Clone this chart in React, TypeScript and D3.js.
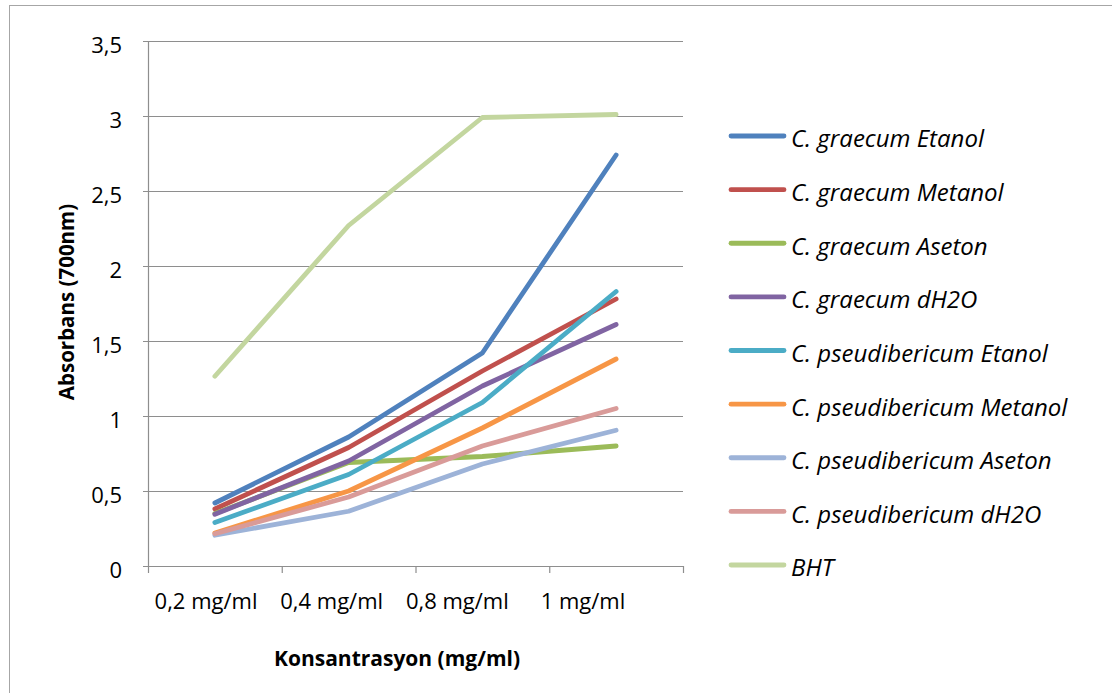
import React from "react";
import * as d3 from "d3";

const categories = ["0,2 mg/ml", "0,4 mg/ml", "0,8 mg/ml", "1 mg/ml"];
const seriesNames = [
  "C. graecum Etanol",
  "C. graecum Metanol",
  "C. graecum Aseton",
  "C. graecum dH2O",
  "C. pseudibericum Etanol",
  "C. pseudibericum Metanol",
  "C. pseudibericum Aseton",
  "C. pseudibericum dH2O",
  "BHT",
];
const graecumEtanol = [0.42, 0.86, 1.42, 2.74];
const graecumMetanol = [0.38, 0.79, 1.3, 1.78];
const graecumAseton = [0.35, 0.69, 0.73, 0.8];
const graecumDH2O = [0.345, 0.7, 1.2, 1.61];
const pseudEtanol = [0.29, 0.61, 1.09, 1.83];
const pseudMetanol = [0.22, 0.5, 0.92, 1.38];
const pseudAseton = [0.205, 0.365, 0.68, 0.905];
const pseudDH2O = [0.215, 0.46, 0.8, 1.05];
const bht = [1.265, 2.27, 2.99, 3.01];
const seriesValues = [
  graecumEtanol,
  graecumMetanol,
  graecumAseton,
  graecumDH2O,
  pseudEtanol,
  pseudMetanol,
  pseudAseton,
  pseudDH2O,
  bht,
];
const colors = [
  "#4F81BD",
  "#C0504D",
  "#9BBB59",
  "#8064A2",
  "#4BACC6",
  "#F79646",
  "#9DB3D8",
  "#D99B99",
  "#C3D69F",
];
const yTicks = [0, 0.5, 1, 1.5, 2, 2.5, 3, 3.5];

const FONT = "'Open Sans', 'Liberation Sans', sans-serif";

export default function App() {
  const left = 148, right = 683, top = 41, bottom = 566;
  const x = d3.scaleBand<string>().domain(categories).range([left, right]);
  const labelX = d3.scalePoint<string>().domain(categories).range([206, 583]);
  const y = d3.scaleLinear().domain([0, 3.5]).range([bottom, top]);
  const line = d3
    .line<number>()
    .x((_, i) => (x(categories[i]) as number) + x.bandwidth() / 2)
    .y((v) => y(v));
  const axisColor = "#8E8E8E";
  const legendY = d3.scalePoint<string>().domain(seriesNames).range([136, 565]);
  const fmt = (v: number) => String(v).replace(".", ",");
  const edges = [...categories.map((c) => x(c) as number), right];

  return (
    <svg
      width={1112}
      height={693}
      style={{ position: "absolute", left: 0, top: 0, background: "#fff" }}
      fontFamily={FONT}
    >
      <rect x={9.5} y={5.5} width={1200} height={800} fill="#fff" stroke="#A6A6A6" strokeWidth={1} />
      {yTicks.map((t) => (
        <g key={t}>
          <line x1={left - 5} x2={right} y1={y(t) + 0.5} y2={y(t) + 0.5} stroke={axisColor} strokeWidth={1.2} />
          <text x={122} y={y(t) + 4} dy="0.35em" textAnchor="end" fontSize={22} fill="#000">
            {fmt(t)}
          </text>
        </g>
      ))}
      <line x1={left + 0.5} x2={left + 0.5} y1={top} y2={bottom} stroke={axisColor} strokeWidth={1.2} />
      {edges.map((e, i) => (
        <line key={i} x1={e + 0.5} x2={e + 0.5} y1={bottom} y2={bottom + 7} stroke={axisColor} strokeWidth={1.2} />
      ))}
      {categories.map((c) => (
        <text key={c} x={labelX(c)} y={601} dy="0.35em" textAnchor="middle" fontSize={22} fill="#000">
          {c}
        </text>
      ))}
      <text x={397} y={659} dy="0.35em" textAnchor="middle" fontSize={21} fontWeight="bold" fill="#000">
        Konsantrasyon (mg/ml)
      </text>
      <text
        transform={`translate(67,302) rotate(-90)`}
        dy="0.35em"
        textAnchor="middle"
        fontSize={20.5}
        fontWeight="bold"
        fill="#000"
      >
        Absorbans (700nm)
      </text>
      {seriesValues.map((vals, i) => (
        <path
          key={seriesNames[i]}
          d={line(vals) as string}
          fill="none"
          stroke={colors[i]}
          strokeWidth={4.8}
          strokeLinecap="round"
          strokeLinejoin="round"
        />
      ))}
      {seriesNames.map((n, i) => (
        <g key={n}>
          <line
            x1={731}
            x2={784}
            y1={legendY(n)}
            y2={legendY(n)}
            stroke={colors[i]}
            strokeWidth={4.8}
            strokeLinecap="round"
          />
          <text x={791} y={(legendY(n) as number) + 3} dy="0.35em" fontSize={24} fontStyle="italic" fill="#000">
            {n}
          </text>
        </g>
      ))}
    </svg>
  );
}
